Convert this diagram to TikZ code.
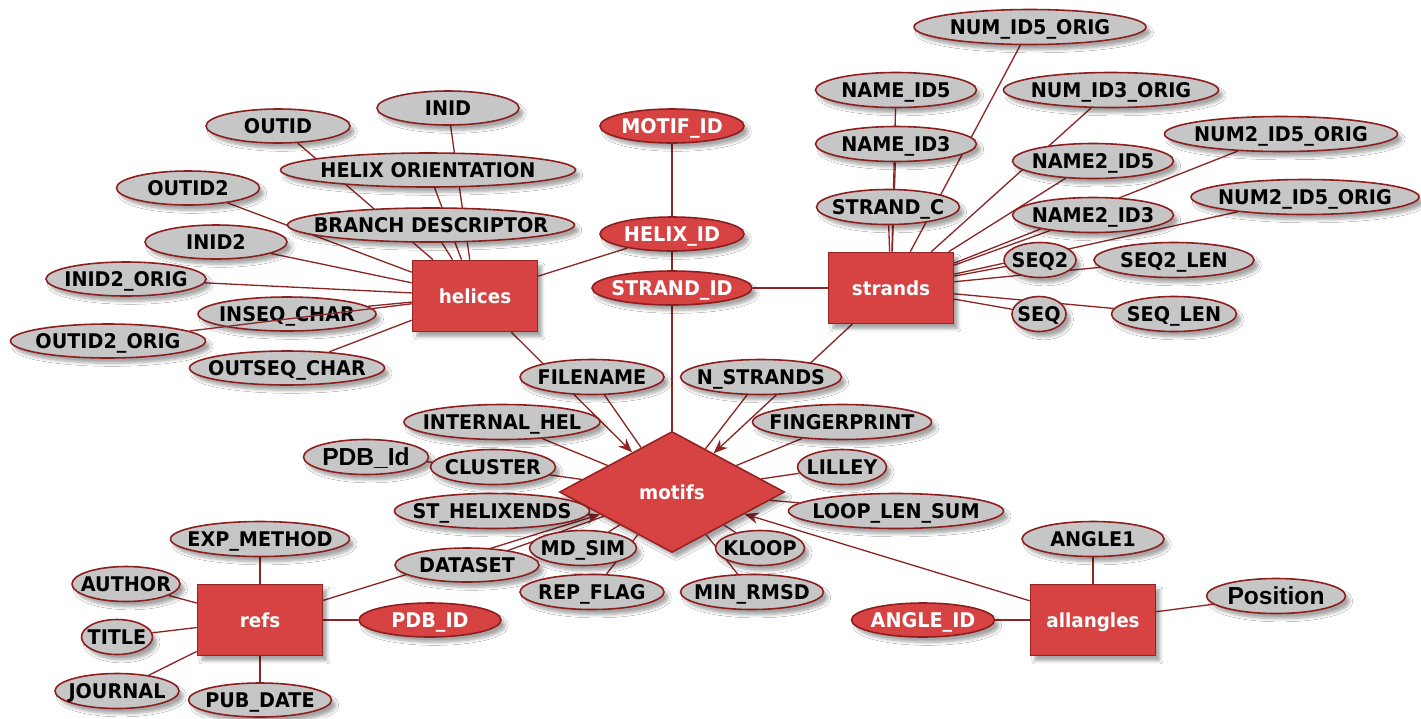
\documentclass[tikz,border=0pt]{standalone}
\usepackage{fontspec}
\usetikzlibrary{shapes.geometric,arrows.meta,backgrounds,shadows.blur}
\newfontfamily\attrfont{DejaVu Sans Bold}[FakeStretch=0.95]
\newfontfamily\arialb{Liberation Sans Bold}
\newcommand\zb[1]{\makebox[0pt]{#1}}
\definecolor{entRed}{RGB}{215,66,66}
\definecolor{entBord}{RGB}{150,35,35}
\definecolor{bordRed}{RGB}{140,30,30}
\definecolor{attrGray}{RGB}{198,198,198}
\definecolor{lineRed}{RGB}{140,38,38}
\tikzset{
  sz/.style n args={2}{minimum width=#1*0.02cm, minimum height=#2*0.02cm},
  shdw/.style={blur shadow={shadow xshift=2.5pt, shadow yshift=-3pt, shadow opacity=35, shadow blur steps=6}},
  conn/.style={draw=lineRed, line width=0.75pt},
  arr/.style={conn, -{Stealth[length=8pt,width=6.5pt]}, fill=lineRed},
  attr/.style={ellipse, draw=bordRed, line width=0.9pt, fill=attrGray, inner sep=0pt,
    font=\attrfont\fontsize{11.5}{13}\selectfont, text=black, text height=8.2pt, text depth=0pt, shdw},
  keyattr/.style={attr, fill=entRed, text=white},
  bigattr/.style={attr, font=\arialb\fontsize{14}{16}\selectfont, text height=10pt},
  ent/.style={rectangle, draw=entBord, fill=entRed, line width=0.9pt, inner sep=0pt,
    font=\attrfont\fontsize{11}{13}\selectfont, text=white, text height=8pt, text depth=0pt, shdw},
}
\begin{document}
\begin{tikzpicture}[x=0.02cm, y=-0.02cm]
\path[use as bounding box] (0,0) rectangle (1421,718);

% entities
\node[ent, sz={125}{71}] (helices) at (475,296) {helices};
\node[ent, sz={125}{71}] (strands) at (891,288) {strands};
\node[ent, sz={125}{71}] (refs) at (260,620) {refs};
\node[ent, sz={125}{71}] (allangles) at (1093,620) {allangles};
\node[ent, diamond, sz={225}{121}] (motifs) at (672,492) {\zb{motifs}};

% key attributes
\node[keyattr, sz={144}{34}] (motifid) at (672,126) {\zb{MOTIF\_ID}};
\node[keyattr, sz={144}{34}] (helixid) at (672,234) {\zb{HELIX\_ID}};
\node[keyattr, sz={160}{34}] (strandid) at (672,288) {\zb{STRAND\_ID}};
\node[keyattr, sz={142}{34}] (pdbidk) at (430,620) {\zb{PDB\_ID}};
\node[keyattr, sz={143}{34}] (angleid) at (923,620) {\zb{ANGLE\_ID}};

% helices attributes
\node[attr, sz={144}{34}] (outid) at (278,126) {\zb{OUTID}};
\node[attr, sz={142}{34}] (inid) at (448,108) {\zb{INID}};
\node[attr, sz={295}{34}] (helixor) at (428,170) {\zb{HELIX ORIENTATION}};
\node[attr, sz={143}{34}] (outid2) at (188,188) {\zb{OUTID2}};
\node[attr, sz={287}{34}] (branch) at (431,225) {\zb{BRANCH DESCRIPTOR}};
\node[attr, sz={142}{34}] (inid2) at (216,242) {\zb{INID2}};
\node[attr, sz={160}{34}] (inid2orig) at (126,279) {\zb{INID2\_ORIG}};
\node[attr, sz={178}{34}] (inseq) at (287,314) {\zb{INSEQ\_CHAR}};
\node[attr, sz={195}{34}] (outid2orig) at (108,341) {\zb{OUTID2\_ORIG}};
\node[attr, sz={195}{34}] (outseq) at (287,368) {\zb{OUTSEQ\_CHAR}};

% strands attributes
\node[attr, sz={232}{35}] (numid5) at (1030,27) {\zb{NUM\_ID5\_ORIG}};
\node[attr, sz={161}{35}] (nameid5) at (896,90) {\zb{NAME\_ID5}};
\node[attr, sz={215}{35}] (numid3) at (1111,90) {\zb{NUM\_ID3\_ORIG}};
\node[attr, sz={161}{35}] (nameid3) at (896,144) {\zb{NAME\_ID3}};
\node[attr, sz={233}{35}] (numtwoa) at (1281,134) {\zb{NUM2\_ID5\_ORIG}};
\node[attr, sz={161}{35}] (nametwoid5) at (1093,161) {\zb{NAME2\_ID5}};
\node[attr, sz={143}{35}] (strandc) at (888,207) {\zb{STRAND\_C}};
\node[attr, sz={161}{35}] (nametwoid3) at (1093,215) {\zb{NAME2\_ID3}};
\node[attr, sz={228}{35}] (numtwob) at (1305,197) {\zb{NUM2\_ID5\_ORIG}};
\node[attr, sz={72}{35}] (seqtwo) at (1040,260) {\zb{SEQ2}};
\node[attr, sz={160}{35}] (seqtwolen) at (1174,260) {\zb{SEQ2\_LEN}};
\node[attr, sz={54}{35}] (seq) at (1039,314) {\zb{SEQ}};
\node[attr, sz={125}{35}] (seqlen) at (1174,314) {\zb{SEQ\_LEN}};

% motifs attributes
\node[attr, sz={144}{35}] (filename) at (592,377) {\zb{FILENAME}};
\node[attr, sz={161}{35}] (nstrands) at (761,377) {\zb{N\_STRANDS}};
\node[attr, sz={196}{35}] (internal) at (502,422) {\zb{INTERNAL\_HEL}};
\node[attr, sz={179}{35}] (finger) at (842,422) {\zb{FINGERPRINT}};
\node[bigattr, sz={125}{35}] (pdbid) at (366,457) {\zb{PDB\_Id}};
\node[attr, sz={125}{35}] (cluster) at (493,467) {\zb{CLUSTER}};
\node[attr, sz={89}{35}] (lilley) at (842,467) {\zb{LILLEY}};
\node[attr, sz={195}{35}] (sthel) at (492,511) {\zb{ST\_HELIXENDS}};
\node[attr, sz={215}{35}] (looplen) at (896,511) {\zb{LOOP\_LEN\_SUM}};
\node[attr, sz={107}{35}] (mdsim) at (583,548) {\zb{MD\_SIM}};
\node[attr, sz={89}{35}] (kloop) at (760,548) {\zb{KLOOP}};
\node[attr, sz={144}{34}] (dataset) at (467,565) {\zb{DATASET}};
\node[attr, sz={144}{35}] (repflag) at (592,592) {\zb{REP\_FLAG}};
\node[attr, sz={143}{35}] (minrmsd) at (752,592) {\zb{MIN\_RMSD}};

% refs attributes
\node[attr, sz={179}{35}] (expmethod) at (260,539) {\zb{EXP\_METHOD}};
\node[attr, sz={108}{35}] (author) at (126,584) {\zb{AUTHOR}};
\node[attr, sz={71}{35}] (title) at (117,637) {\zb{TITLE}};
\node[attr, sz={124}{35}] (journal) at (117,691) {\zb{JOURNAL}};
\node[attr, sz={143}{34}] (pubdate) at (260,700) {\zb{PUB\_DATE}};

% allangles attributes
\node[attr, sz={142}{35}] (angle1) at (1093,539) {\zb{ANGLE1}};
\node[bigattr, sz={139}{35}] (position) at (1276,596) {\zb{Position}};

\begin{pgfonlayer}{background}
  \fill[white] (0,0) rectangle (1421,718);
  % helices
  \foreach \a in {outid,inid,helixor,branch,outid2,inid2,inid2orig,inseq,outseq,helixid}
    \draw[conn] (helices) -- (\a);
  \draw[arr] (helices) -- (motifs);
  % key chain
  \draw[conn] (motifid) -- (helixid);
  \draw[conn] (helixid) -- (strandid);
  \draw[conn] (strandid) -- (motifs);
  % strands
  \foreach \a in {numid5,nameid5,numid3,nameid3,numtwoa,nametwoid5,strandc,nametwoid3,numtwob,seqtwo,seqtwolen,seq,seqlen,strandid}
    \draw[conn] (strands) -- (\a);
  \draw[arr] (strands) -- (motifs);
  % motifs
  \foreach \a in {filename,nstrands,internal,finger,cluster,lilley,sthel,looplen,mdsim,kloop,dataset,repflag,minrmsd}
    \draw[conn] (motifs) -- (\a);
  \draw[conn] (pdbid) -- (cluster);
  % refs
  \foreach \a in {expmethod,author,title,journal,pubdate,pdbidk}
    \draw[conn] (refs) -- (\a);
  \draw[arr] (refs) -- (motifs);
  % allangles
  \foreach \a in {angle1,angleid,position}
    \draw[conn] (allangles) -- (\a);
  \draw[arr] (allangles) -- (motifs);
\end{pgfonlayer}
% line drawn over INSEQ_CHAR
\draw[conn] (outid2orig) -- (helices);
\end{tikzpicture}
\end{document}
